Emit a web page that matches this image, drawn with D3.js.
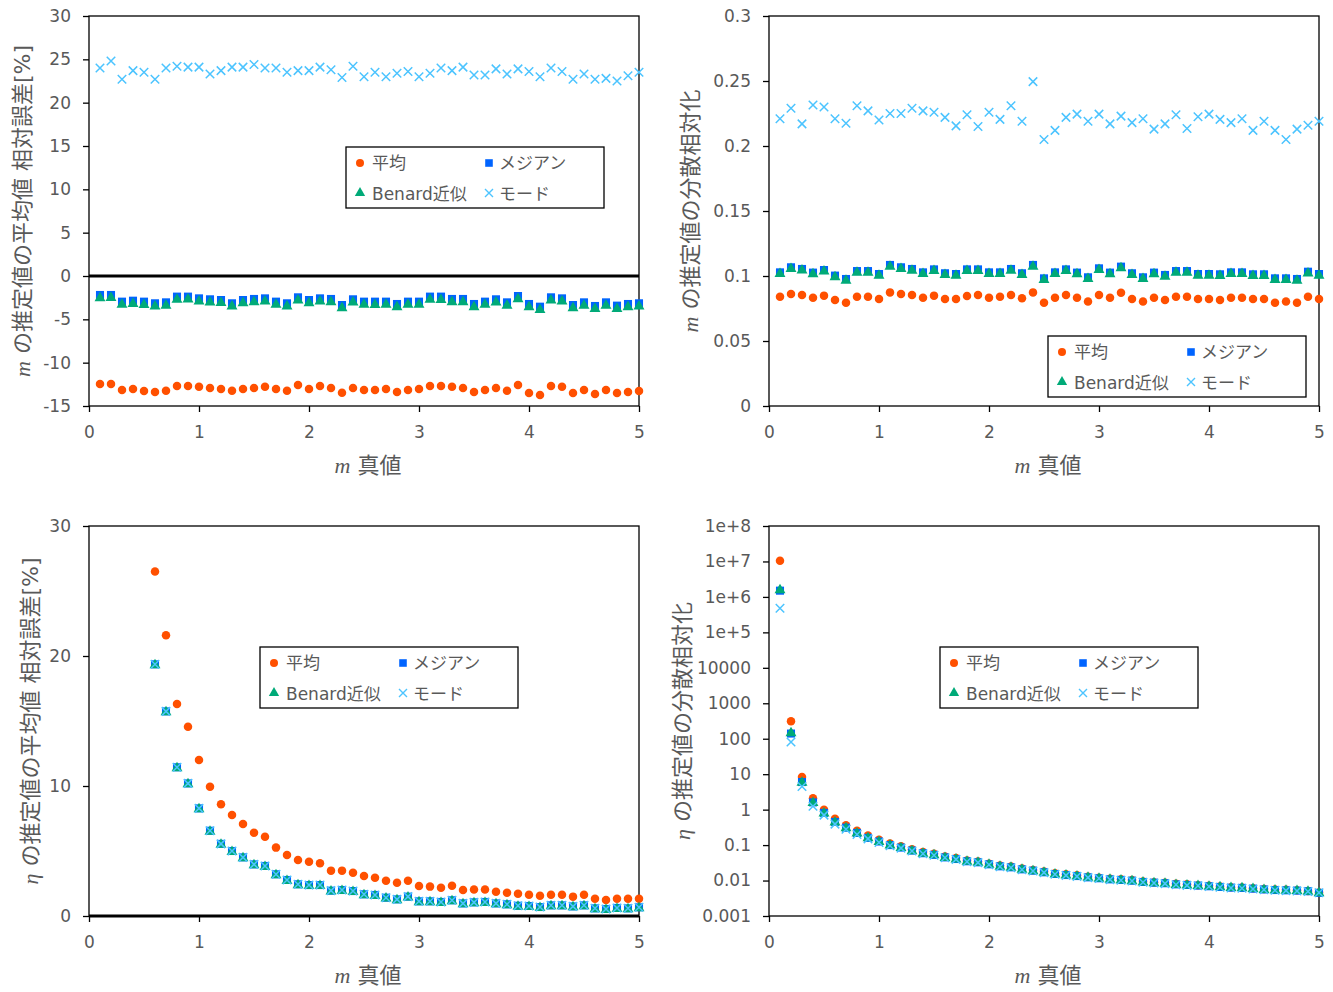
<!DOCTYPE html>
<html><head><meta charset="utf-8">
<script src="https://cdn.jsdelivr.net/npm/d3@7"></script>
<style>
body{margin:0;background:#fff}
svg text{font-family:"DejaVu Sans","Noto Sans CJK JP",sans-serif;fill:#595959}
</style>
</head><body>
<svg id="c" width="1333" height="992"></svg>
<script>
// ---------- DATA ----------
const mTrue = [0.1,0.2,0.3,0.4,0.5,0.6,0.7,0.8,0.9,1.0,1.1,1.2,1.3,1.4,1.5,1.6,1.7,1.8,1.9,2.0,
  2.1,2.2,2.3,2.4,2.5,2.6,2.7,2.8,2.9,3.0,3.1,3.2,3.3,3.4,3.5,3.6,3.7,3.8,3.9,4.0,
  4.1,4.2,4.3,4.4,4.5,4.6,4.7,4.8,4.9,5.0];
const mTrueBL = [0.6,0.7,0.8,0.9,1.0,1.1,1.2,1.3,1.4,1.5,1.6,1.7,1.8,1.9,2.0,
  2.1,2.2,2.3,2.4,2.5,2.6,2.7,2.8,2.9,3.0,3.1,3.2,3.3,3.4,3.5,3.6,3.7,3.8,3.9,4.0,
  4.1,4.2,4.3,4.4,4.5,4.6,4.7,4.8,4.9,5.0];
const seriesNames = ["平均","メジアン","Benard近似","モード"];
const xTicks = [0,1,2,3,4,5];

// top-left: m estimate mean relative error [%]
const tlMean = [-12.46,-12.46,-13.15,-13.04,-13.27,-13.38,-13.23,-12.69,-12.69,-12.77,-12.92,-13.04,-13.23,-13.04,-12.92,-12.77,-13.04,-13.23,-12.58,-13.04,
  -12.69,-12.92,-13.46,-12.92,-13.15,-13.15,-13.04,-13.38,-13.15,-13.04,-12.69,-12.69,-12.77,-12.92,-13.38,-13.15,-12.92,-13.23,-12.58,-13.5,
  -13.73,-12.69,-12.77,-13.5,-13.15,-13.62,-13.15,-13.5,-13.38,-13.27];
const tlMedian = [-2.19,-2.19,-2.96,-2.85,-2.96,-3.15,-3.04,-2.38,-2.38,-2.58,-2.69,-2.77,-3.15,-2.77,-2.65,-2.58,-2.96,-3.15,-2.46,-2.77,
  -2.58,-2.65,-3.35,-2.69,-2.96,-2.96,-2.96,-3.23,-2.96,-2.96,-2.38,-2.38,-2.65,-2.65,-3.23,-2.96,-2.69,-3.04,-2.31,-3.23,
  -3.54,-2.46,-2.58,-3.35,-3.04,-3.46,-3.04,-3.42,-3.23,-3.15];
const tlBenard = [-2.55,-2.52,-3.3,-3.2,-3.33,-3.5,-3.4,-2.72,-2.7,-2.92,-3.05,-3.1,-3.5,-3.12,-3.0,-2.92,-3.3,-3.5,-2.8,-3.12,
  -2.92,-3.0,-3.7,-3.05,-3.3,-3.32,-3.3,-3.58,-3.3,-3.3,-2.72,-2.74,-3.0,-3.0,-3.58,-3.3,-3.05,-3.4,-2.65,-3.58,
  -3.9,-2.8,-2.92,-3.7,-3.4,-3.8,-3.4,-3.78,-3.58,-3.5];
const tlMode = [24.0,24.8,22.7,23.7,23.5,22.7,24.0,24.2,24.1,24.1,23.3,23.7,24.1,24.1,24.4,24.0,24.0,23.5,23.7,23.7,
  24.1,23.8,22.9,24.2,23.0,23.5,23.0,23.4,23.6,23.0,23.4,24.0,23.7,24.1,23.2,23.2,23.9,23.3,23.9,23.6,
  23.0,24.0,23.6,22.7,23.3,22.7,22.8,22.5,23.1,23.5];
const tlTicks = [-15,-10,-5,0,5,10,15,20,25,30];

// top-right: m estimate variance (relative)
const trMean = [0.0841,0.0862,0.0854,0.0833,0.0849,0.0815,0.0795,0.0841,0.0841,0.0823,0.0874,0.0862,0.0854,0.0833,0.0849,0.0823,0.0823,0.0846,0.0854,0.0833,
  0.0841,0.0854,0.0828,0.0874,0.0795,0.0833,0.0854,0.0833,0.0803,0.0854,0.0833,0.0872,0.0823,0.0803,0.0833,0.0815,0.0841,0.0841,0.0823,0.0823,
  0.0815,0.0833,0.0833,0.0823,0.0823,0.0795,0.0803,0.0795,0.0841,0.0823];
const trMedian = [0.1028,0.1067,0.1054,0.1026,0.1046,0.1003,0.0977,0.1038,0.1038,0.1015,0.1085,0.1067,0.1054,0.1028,0.1051,0.1021,0.1015,0.1051,0.1051,0.1028,
  0.1028,0.1054,0.1021,0.1085,0.0982,0.1028,0.1051,0.1026,0.0990,0.1059,0.1026,0.1072,0.1021,0.0990,0.1026,0.1008,0.1038,0.1038,0.1015,0.1015,
  0.1013,0.1028,0.1028,0.1013,0.1013,0.0982,0.0982,0.0977,0.1033,0.1015];
const trBenard = [0.1016,0.1055,0.1043,0.1014,0.1035,0.0991,0.0965,0.1026,0.1027,0.1003,0.1073,0.1055,0.1042,0.1016,0.1039,0.1009,0.1003,0.1039,0.1040,0.1016,
  0.1016,0.1042,0.1009,0.1073,0.0970,0.1016,0.1039,0.1014,0.0978,0.1047,0.1014,0.1060,0.1009,0.0978,0.1014,0.0996,0.1026,0.1026,0.1003,0.1003,
  0.1001,0.1016,0.1016,0.1001,0.1001,0.0970,0.0970,0.0965,0.1021,0.1003];
const trMode = [0.221,0.229,0.217,0.2315,0.230,0.221,0.2175,0.231,0.227,0.220,0.225,0.225,0.229,0.227,0.226,0.222,0.2155,0.224,0.215,0.226,
  0.2205,0.231,0.219,0.2495,0.205,0.212,0.222,0.2245,0.219,0.2245,0.217,0.223,0.218,0.221,0.213,0.217,0.224,0.2135,0.2225,0.2245,
  0.2205,0.218,0.221,0.212,0.219,0.212,0.205,0.213,0.216,0.219];
const trTicks = [0,0.05,0.1,0.15,0.2,0.25,0.3];

// bottom-left: eta estimate mean relative error [%]
const blMean = [26.5,21.6,16.3,14.56,12.0,9.95,8.6,7.77,7.08,6.41,6.10,5.26,4.69,4.31,4.18,4.05,3.49,3.49,3.33,3.08,
  2.95,2.72,2.56,2.72,2.31,2.26,2.18,2.33,2.0,2.03,2.03,1.87,1.79,1.72,1.64,1.56,1.64,1.64,1.49,1.64,
  1.33,1.23,1.33,1.33,1.33];
const blMedian = [19.36,15.74,11.44,10.2,8.28,6.56,5.55,5.0,4.51,3.97,3.85,3.21,2.77,2.44,2.38,2.38,1.95,2.0,1.92,1.67,
  1.62,1.41,1.28,1.49,1.13,1.13,1.08,1.21,0.97,1.05,1.08,0.97,0.90,0.79,0.77,0.69,0.82,0.82,0.74,0.82,
  0.59,0.54,0.62,0.59,0.67];
const blBenard = [19.3,15.68,11.38,10.14,8.22,6.5,5.49,4.94,4.45,3.91,3.79,3.15,2.71,2.38,2.32,2.32,1.89,1.94,1.86,1.61,
  1.56,1.35,1.22,1.43,1.07,1.07,1.02,1.15,0.91,0.99,1.02,0.91,0.84,0.73,0.71,0.63,0.76,0.76,0.68,0.76,
  0.53,0.48,0.56,0.53,0.61];
const blMode = [19.36,15.74,11.44,10.2,8.28,6.56,5.55,5.0,4.51,3.97,3.85,3.21,2.77,2.44,2.38,2.38,1.95,2.0,1.92,1.67,
  1.62,1.41,1.28,1.49,1.13,1.13,1.08,1.21,0.97,1.05,1.08,0.97,0.90,0.79,0.77,0.69,0.82,0.82,0.74,0.82,
  0.59,0.54,0.62,0.59,0.67];
const blTicks = [0,10,20,30];

// bottom-right: eta estimate variance (relative), log scale
const brMean = [1.05e7,310,8.3,2.1,1.0,0.55,0.36,0.255,0.185,0.142,0.110,0.093,0.076,0.064,0.057,0.048,0.043,0.037,0.0345,0.030,
  0.0265,0.0248,0.0217,0.0199,0.0179,0.016,0.015,0.014,0.0128,0.012,0.0112,0.0108,0.0103,0.0094,0.009,0.0087,0.0081,0.0078,0.0074,0.0071,
  0.0068,0.0065,0.0064,0.0061,0.0058,0.0056,0.0055,0.0053,0.0051,0.0046];
const brMedian = [1.5e6,140,6.0,1.6,0.81,0.45,0.31,0.22,0.16,0.126,0.100,0.085,0.070,0.059,0.053,0.045,0.0405,0.035,0.0327,0.0287,
  0.0252,0.0236,0.0207,0.019,0.0171,0.0153,0.0143,0.0134,0.0123,0.0116,0.0108,0.0104,0.0099,0.0091,0.0087,0.0084,0.0078,0.0075,0.0072,0.0069,
  0.0066,0.0063,0.0062,0.0059,0.0056,0.0054,0.0053,0.0052,0.0050,0.0045];
const brBenard = [1.55e6,145,5.8,1.55,0.79,0.44,0.30,0.215,0.157,0.123,0.098,0.083,0.068,0.058,0.052,0.044,0.0397,0.0343,0.032,0.0281,
  0.0247,0.0231,0.0203,0.0186,0.0168,0.015,0.014,0.0131,0.0121,0.0114,0.0106,0.0102,0.0097,0.0089,0.0085,0.0082,0.0076,0.0073,0.0071,0.0068,
  0.0065,0.0062,0.0061,0.0058,0.0055,0.0053,0.0052,0.0051,0.0049,0.0044];
const brMode = [4.8e5,81,4.5,1.25,0.70,0.39,0.28,0.20,0.15,0.118,0.096,0.082,0.068,0.057,0.052,0.044,0.0395,0.034,0.032,0.028,
  0.0246,0.023,0.0202,0.0186,0.0167,0.015,0.014,0.0131,0.0121,0.0114,0.0106,0.0102,0.0097,0.0089,0.0085,0.0082,0.0076,0.0073,0.0071,0.0068,
  0.0065,0.0062,0.0061,0.0058,0.0055,0.0053,0.0052,0.0051,0.0049,0.0045];
const brTicks = [0.001,0.01,0.1,1,10,100,1000,10000,1e5,1e6,1e7,1e8];

// ---------- STYLE ----------
const colors = ["#FF5000","#0064FF","#00AA78","#4CC4FF"];
const types = ["circle","square","triangle","x"];
const GRAY = "#595959";

const svg = d3.select("#c");

function markerPath(type, s){
  if(type==="circle") return d3.symbol().type(d3.symbolCircle).size(Math.PI*(s/2)*(s/2))();
  if(type==="square") return d3.symbol().type(d3.symbolSquare).size(s*s*0.9)();
  if(type==="triangle") return d3.symbol().type(d3.symbolTriangle).size(s*s*0.72)();
  const h = s/2;
  return `M${-h},${-h}L${h},${h}M${-h},${h}L${h},${-h}`;
}

function panel(cfg){
  const W = 550, H = 390;
  const g = svg.append("g");
  const x = d3.scaleLinear().domain([0,5]).range([cfg.left, cfg.left+W]);
  const y = (cfg.log ? d3.scaleLog() : d3.scaleLinear()).domain(cfg.domain).range([cfg.top+H, cfg.top]);
  const id = "clip"+cfg.left+"_"+cfg.top;
  svg.append("clipPath").attr("id",id).append("rect")
    .attr("x",cfg.left-6).attr("y",cfg.top-6).attr("width",W+12).attr("height",H+12);

  // axes
  const ya = g.append("g").attr("transform",`translate(${cfg.left},0)`)
    .call(d3.axisLeft(y).tickValues(cfg.yTicks).tickFormat(cfg.fmt).tickSize(6).tickPadding(12));
  const xa = g.append("g").attr("transform",`translate(0,${cfg.top+H})`)
    .call(d3.axisBottom(x).tickValues(xTicks).tickFormat(d3.format("d")).tickSize(6).tickPadding(14));
  [ya,xa].forEach(a=>{
    a.attr("font-family",null).attr("font-size",null);
    a.select(".domain").remove();
    a.selectAll(".tick line").attr("stroke","#000").attr("stroke-width",1.3);
    a.selectAll(".tick text").attr("fill",GRAY).style("font-size","17px");
  });

  // plot border
  g.append("rect").attr("x",cfg.left).attr("y",cfg.top).attr("width",W).attr("height",H)
    .attr("fill","none").attr("stroke","#000").attr("stroke-width",1.3);
  if(cfg.zero){
    g.append("line").attr("x1",cfg.left).attr("x2",cfg.left+W).attr("y1",y(0)).attr("y2",y(0))
      .attr("stroke","#000").attr("stroke-width",2.8);
  }

  // data
  const pts = g.append("g").attr("clip-path",`url(#${id})`);
  cfg.series.forEach((vals,i)=>{
    pts.append("g").selectAll("path").data(vals).join("path")
      .attr("d", markerPath(types[i], types[i]==="x"?8.5:8.5))
      .attr("transform",(d,j)=>`translate(${x(cfg.xs[j])},${y(d)})`)
      .attr("fill", types[i]==="x" ? "none" : colors[i])
      .attr("stroke", types[i]==="x" ? colors[i] : "none")
      .attr("stroke-width", 1.5);
  });

  // x title
  const xt = svg.append("text").attr("x",cfg.left+W/2+4).attr("y",cfg.top+H+59)
    .attr("text-anchor","middle").attr("dominant-baseline","central").style("font-size","22px");
  xt.append("tspan").style("font-family","'Liberation Serif',serif")
    .style("font-style","italic").text("m");
  xt.append("tspan").text(" 真値");

  // y title
  const yt = svg.append("text").attr("transform",`translate(${cfg.ytx},${cfg.top+H/2}) rotate(-90)`)
    .attr("text-anchor","middle").attr("dominant-baseline","central").style("font-size","22px");
  yt.append("tspan").style("font-family","'Liberation Serif',serif").style("font-style","italic").text(cfg.yvar);
  yt.append("tspan").text(cfg.ytitle);

  // legend
  const L = svg.append("g").attr("transform",`translate(${cfg.leg[0]},${cfg.leg[1]})`);
  L.append("rect").attr("width",258).attr("height",61).attr("fill","#fff")
    .attr("stroke","#000").attr("stroke-width",1.3);
  const pos = [[14,16,26,22],[143,16,153,22],[14,46,26,53],[143,46,153,53]];
  seriesNames.forEach((n,i)=>{
    const p = pos[i];
    L.append("path").attr("d", markerPath(types[i], 8))
      .attr("transform",`translate(${p[0]},${p[1]})`)
      .attr("fill", types[i]==="x" ? "none" : colors[i])
      .attr("stroke", types[i]==="x" ? colors[i] : "none").attr("stroke-width",1.4);
    L.append("text").attr("x",p[2]).attr("y",p[3]).style("font-size","17px").text(n);
  });
}

const fmtLin = d => String(d);
const fmtLog = d => d >= 1e5 ? "1e+" + Math.round(Math.log10(d)) : String(+d.toPrecision(1));

panel({left:89, top:16, domain:[-15,30], yTicks:tlTicks, fmt:fmtLin, zero:true,
  xs:mTrue, series:[tlMean,tlMedian,tlBenard,tlMode], leg:[346,147],
  ytx:22, yvar:"m", ytitle:" の推定値の平均値 相対誤差[%]"});
panel({left:769, top:16, domain:[0,0.3], yTicks:trTicks, fmt:fmtLin, zero:false,
  xs:mTrue, series:[trMean,trMedian,trBenard,trMode], leg:[1048,336],
  ytx:690, yvar:"m", ytitle:" の推定値の分散相対化"});
panel({left:89, top:526, domain:[0,30], yTicks:blTicks, fmt:fmtLin, zero:true,
  xs:mTrueBL, series:[blMean,blMedian,blBenard,blMode], leg:[260,647],
  ytx:30, yvar:"η", ytitle:" の推定値の平均値 相対誤差[%]"});
panel({left:769, top:526, domain:[0.001,1e8], log:true, yTicks:brTicks, fmt:fmtLog, zero:false,
  xs:mTrue, series:[brMean,brMedian,brBenard,brMode], leg:[940,647],
  ytx:682, yvar:"η", ytitle:" の推定値の分散相対化"});
</script>
</body></html>
